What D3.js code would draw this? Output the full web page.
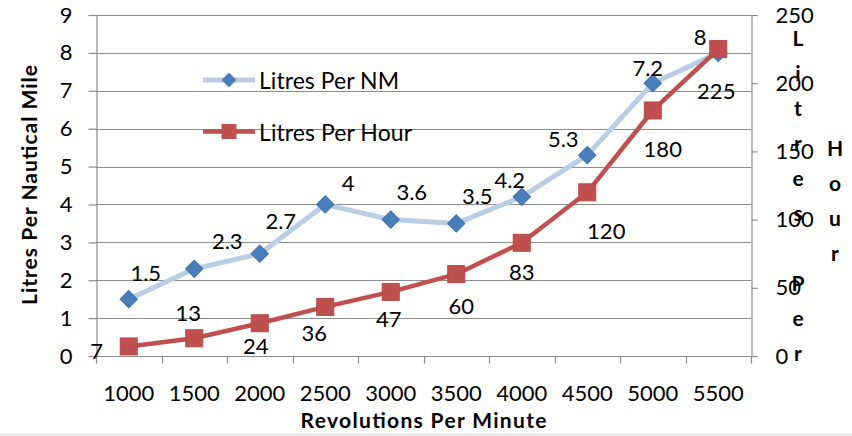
<!DOCTYPE html>
<html>
<head>
<meta charset="utf-8">
<script src="https://cdn.jsdelivr.net/npm/d3@7"></script>
<style>
  body { margin: 0; background: #fff; }
  svg { display: block; font-family: Lato, "Liberation Sans", sans-serif; }
</style>
</head>
<body>
<div id="chart"></div>
<script>
// Chart data
const rpm = ['1000', '1500', '2000', '2500', '3000', '3500', '4000', '4500', '5000', '5500'];
const litresPerNM = [1.5, 2.3, 2.7, 4, 3.6, 3.5, 4.2, 5.3, 7.2, 8];
const litresPerHour = [7, 13, 24, 36, 47, 60, 83, 120, 180, 225];
const leftTicks = [0, 1, 2, 3, 4, 5, 6, 7, 8, 9];
const rightTicks = [0, 50, 100, 150, 200, 250];

// Label offsets from their point (px), as Excel placed them
const nmLabelOffset = [[17, -27], [33, -28], [21, -33], [23, -22], [21, -28], [21, -28], [-12, -17], [-24, -17], [-5, -16], [-18, -16]];
const hourLabelOffset = [[-32, 4], [-6, -26], [-4, 22], [-11, 26], [-2, 27], [5, 31], [0, 29], [19, 38], [10, 38], [-2, 41]];

const width = 852, height = 436;
const plot = { left: 96, right: 751, top: 15, bottom: 356 };
const blueLine = '#b9cde5', blueMark = '#4a7ebb';
const redLine = '#c0504d', redMark = '#c0504d';
const grid = '#8c8c8c';
const fontSize = 22;

const svg = d3.select('#chart').append('svg')
    .attr('width', width)
    .attr('height', height);

svg.append('rect').attr('width', width).attr('height', height).attr('fill', '#fff');
svg.append('line')
    .attr('x1', 0).attr('x2', width).attr('y1', 434.5).attr('y2', 434.5)
    .attr('stroke', '#ececec').attr('stroke-width', 3);

const x = d3.scaleBand().domain(rpm).range([plot.left, plot.right]).padding(0);
const yL = d3.scaleLinear().domain([0, 9]).range([plot.bottom, plot.top]);
const yR = d3.scaleLinear().domain([0, 250]).range([plot.bottom, plot.top]);
const cx = d => x(d) + x.bandwidth() / 2;

// Gridlines
svg.append('g').selectAll('line')
    .data(leftTicks.filter(t => t > 0))
    .join('line')
    .attr('x1', plot.left).attr('x2', plot.right)
    .attr('y1', d => Math.round(yL(d)) + 0.5).attr('y2', d => Math.round(yL(d)) + 0.5)
    .attr('stroke', grid).attr('stroke-width', 1.2);

// Left axis
const leftAxis = svg.append('g')
    .attr('transform', `translate(${plot.left + 0.5},0)`)
    .call(d3.axisLeft(yL).tickValues(leftTicks).tickSize(8).tickPadding(16));
// Right axis
const rightAxis = svg.append('g')
    .attr('transform', `translate(${plot.right + 0.5},0)`)
    .call(d3.axisRight(yR).tickValues(rightTicks).tickSize(6).tickPadding(18));
// Bottom axis: labels centred on categories, ticks on category edges
const bottomAxis = svg.append('g')
    .attr('transform', `translate(0,${plot.bottom + 0.5})`)
    .call(d3.axisBottom(x).tickSize(0).tickPadding(29));
bottomAxis.selectAll('.edge')
    .data(d3.range(rpm.length + 1))
    .join('line')
    .attr('class', 'edge')
    .attr('x1', i => Math.round(plot.left + i * x.bandwidth()) + 0.5)
    .attr('x2', i => Math.round(plot.left + i * x.bandwidth()) + 0.5)
    .attr('y1', 0).attr('y2', 7)
    .attr('stroke', grid).attr('stroke-width', 1.2);

[leftAxis, rightAxis, bottomAxis].forEach(g => {
    g.select('.domain').attr('stroke', grid).attr('stroke-width', 1.2);
    g.selectAll('.tick line').attr('stroke', grid).attr('stroke-width', 1.2);
    g.selectAll('.tick text')
        .attr('font-size', fontSize)
        .attr('font-family', 'Lato, sans-serif')
        .attr('fill', '#000');
});
bottomAxis.select('.domain').attr('d', `M${plot.left},0H${plot.right}`);

// Lines
const lineNM = d3.line().x((d, i) => cx(rpm[i])).y(d => yL(d));
const lineHour = d3.line().x((d, i) => cx(rpm[i])).y(d => yR(d));

svg.append('path').datum(litresPerNM)
    .attr('d', lineNM).attr('fill', 'none')
    .attr('stroke', blueLine).attr('stroke-width', 5).attr('stroke-linejoin', 'round');
svg.append('path').datum(litresPerHour)
    .attr('d', lineHour).attr('fill', 'none')
    .attr('stroke', redLine).attr('stroke-width', 4.5).attr('stroke-linejoin', 'round');

// Markers
const diamond = d3.symbol().type(d3.symbolSquare).size(150);
svg.append('g').selectAll('path')
    .data(litresPerNM)
    .join('path')
    .attr('d', diamond)
    .attr('transform', (d, i) => `translate(${cx(rpm[i])},${yL(d)}) rotate(45)`)
    .attr('fill', blueMark).attr('stroke', '#3f72ad').attr('stroke-width', 1);

svg.append('g').selectAll('rect')
    .data(litresPerHour)
    .join('rect')
    .attr('x', (d, i) => cx(rpm[i]) - 8.5)
    .attr('y', d => yR(d) - 8.5)
    .attr('width', 17).attr('height', 17)
    .attr('fill', redMark).attr('stroke', '#b54845').attr('stroke-width', 1);

// Data labels
const labelStyle = sel => sel
    .attr('font-size', fontSize)
    .attr('text-anchor', 'middle')
    .attr('dominant-baseline', 'central')
    .attr('fill', '#000');

svg.append('g').selectAll('text')
    .data(litresPerNM)
    .join('text')
    .attr('x', (d, i) => cx(rpm[i]) + nmLabelOffset[i][0])
    .attr('y', (d, i) => yL(d) + nmLabelOffset[i][1])
    .text(d => d)
    .call(labelStyle);

svg.append('g').selectAll('text')
    .data(litresPerHour)
    .join('text')
    .attr('x', (d, i) => cx(rpm[i]) + hourLabelOffset[i][0])
    .attr('y', (d, i) => yR(d) + hourLabelOffset[i][1])
    .text(d => d)
    .call(labelStyle);

// Legend
const legend = svg.append('g');
const legendItems = [
    { name: 'Litres Per NM', y: 80, line: blueLine, w: 5, mark: 'diamond', len: 140 },
    { name: 'Litres Per Hour', y: 131.5, line: redLine, w: 4.5, mark: 'square', len: 153 }
];
legendItems.forEach(item => {
    legend.append('line')
        .attr('x1', 203).attr('x2', 255).attr('y1', item.y).attr('y2', item.y)
        .attr('stroke', item.line).attr('stroke-width', item.w);
    if (item.mark === 'diamond') {
        legend.append('path')
            .attr('d', d3.symbol().type(d3.symbolSquare).size(110))
            .attr('transform', `translate(229,${item.y}) rotate(45)`)
            .attr('fill', blueMark);
    } else {
        legend.append('rect')
            .attr('x', 221.5).attr('y', item.y - 7.5).attr('width', 15).attr('height', 15)
            .attr('fill', redMark);
    }
    legend.append('text')
        .attr('x', 259).attr('y', item.y)
        .attr('dominant-baseline', 'central')
        .attr('font-size', 23)
        .attr('textLength', item.len)
        .text(item.name);
});

// Axis titles
svg.append('text')
    .attr('transform', 'translate(28,185) rotate(-90)')
    .attr('text-anchor', 'middle')
    .attr('dominant-baseline', 'central')
    .attr('font-size', 21).attr('font-weight', 'bold')
    .attr('textLength', 240)
    .text('Litres Per Nautical Mile');

svg.append('text')
    .attr('x', (plot.left + plot.right) / 2).attr('y', 419)
    .attr('text-anchor', 'middle')
    .attr('dominant-baseline', 'central')
    .attr('font-size', 21).attr('font-weight', 'bold')
    .attr('textLength', 246)
    .text('Revolutions Per Minute');

// Right title wraps one letter per line in two columns
const rightTitle = svg.append('text')
    .attr('text-anchor', 'middle')
    .attr('font-size', 21).attr('font-weight', 'bold');
const columns = [
    { chars: 'Litres Per', x: 798, y: 37 },
    { chars: 'Hour', x: 835, y: 147 }
];
columns.forEach(col => {
    col.chars.split('').forEach((ch, i) => {
        if (ch === ' ') return;
        rightTitle.append('tspan')
            .attr('x', col.x)
            .attr('y', col.y + i * 35)
            .attr('dominant-baseline', 'central')
            .text(ch);
    });
});
</script>
</body>
</html>
